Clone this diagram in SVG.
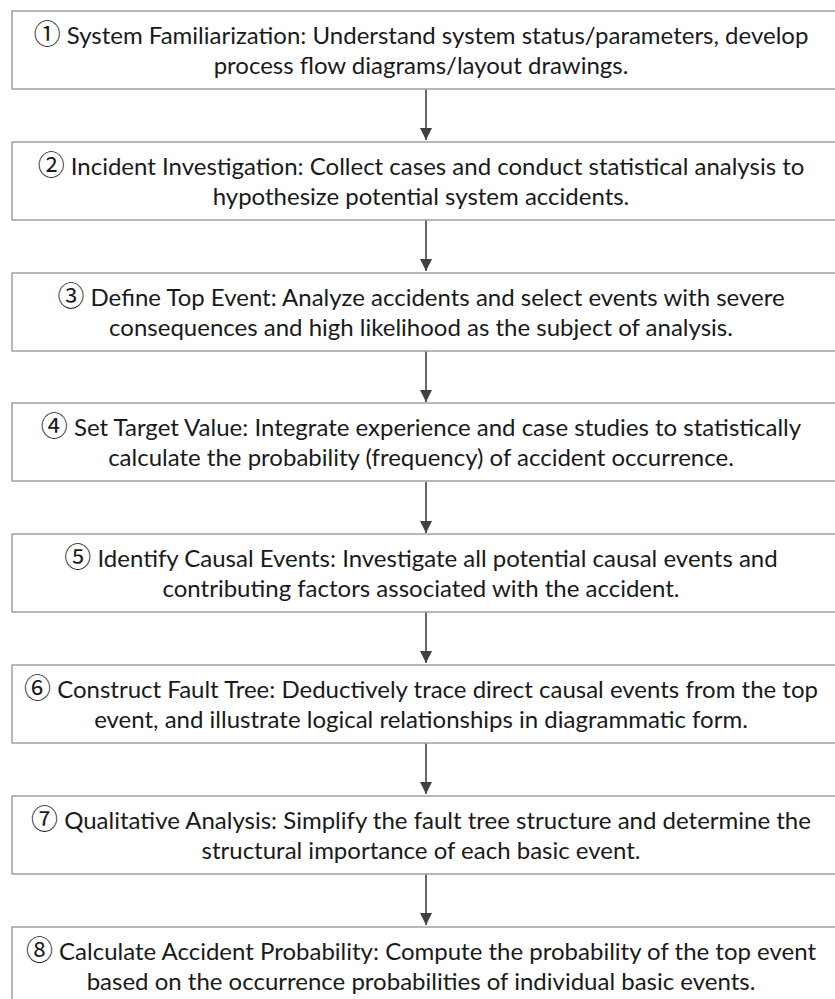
<svg xmlns="http://www.w3.org/2000/svg" width="835" height="999" viewBox="0 0 835 999">
<style>
.box{fill:#ffffff;stroke:#a6a6a6;stroke-width:1.6}
.t{font-family:Lato,"Liberation Sans","Noto Sans CJK SC",sans-serif;font-size:24px;fill:#1a1a1a;text-anchor:middle}
.n{font-family:"Noto Sans CJK SC","DejaVu Sans",sans-serif;font-size:27px}
.c{stroke:#404040;stroke-width:1.6;fill:none}
</style>
<defs>
<marker id="ah" markerWidth="12" markerHeight="12" refX="10" refY="5" orient="auto" markerUnits="userSpaceOnUse" viewBox="0 0 10 10">
<path d="M0,0 L10,5 L0,10 z" fill="#404040"/>
</marker>
</defs>
<rect width="835" height="999" fill="#ffffff"/>
<g id="connectors">
<line class="c" x1="426" y1="89" x2="426" y2="140" marker-end="url(#ah)"/>
<line class="c" x1="426" y1="220" x2="426" y2="271" marker-end="url(#ah)"/>
<line class="c" x1="426" y1="351" x2="426" y2="402" marker-end="url(#ah)"/>
<line class="c" x1="426" y1="482" x2="426" y2="533" marker-end="url(#ah)"/>
<line class="c" x1="426" y1="612" x2="426" y2="663" marker-end="url(#ah)"/>
<line class="c" x1="426" y1="743" x2="426" y2="794" marker-end="url(#ah)"/>
<line class="c" x1="426" y1="874" x2="426" y2="925" marker-end="url(#ah)"/>
</g>
<g id="node1">
<rect class="box" x="12" y="11" width="830" height="78"/>
<text class="t" x="421" y="44"><tspan class="n">①</tspan> System Familiarization: Understand system status/parameters, develop</text>
<text class="t" x="421" y="74">process flow diagrams/layout drawings.</text>
</g>
<g id="node2">
<rect class="box" x="12" y="142" width="830" height="78"/>
<text class="t" x="421" y="175"><tspan class="n">②</tspan> Incident Investigation: Collect cases and conduct statistical analysis to</text>
<text class="t" x="421" y="205">hypothesize potential system accidents.</text>
</g>
<g id="node3">
<rect class="box" x="12" y="273" width="830" height="78"/>
<text class="t" x="421" y="306"><tspan class="n">③</tspan> Define Top Event: Analyze accidents and select events with severe</text>
<text class="t" x="421" y="336">consequences and high likelihood as the subject of analysis.</text>
</g>
<g id="node4">
<rect class="box" x="12" y="403" width="830" height="78"/>
<text class="t" x="421" y="436"><tspan class="n">④</tspan> Set Target Value: Integrate experience and case studies to statistically</text>
<text class="t" x="421" y="466">calculate the probability (frequency) of accident occurrence.</text>
</g>
<g id="node5">
<rect class="box" x="12" y="534" width="830" height="78"/>
<text class="t" x="421" y="567"><tspan class="n">⑤</tspan> Identify Causal Events: Investigate all potential causal events and</text>
<text class="t" x="421" y="597">contributing factors associated with the accident.</text>
</g>
<g id="node6">
<rect class="box" x="12" y="665" width="830" height="78"/>
<text class="t" x="421" y="698"><tspan class="n">⑥</tspan> Construct Fault Tree: Deductively trace direct causal events from the top</text>
<text class="t" x="421" y="728">event, and illustrate logical relationships in diagrammatic form.</text>
</g>
<g id="node7">
<rect class="box" x="12" y="796" width="830" height="78"/>
<text class="t" x="421" y="829"><tspan class="n">⑦</tspan> Qualitative Analysis: Simplify the fault tree structure and determine the</text>
<text class="t" x="421" y="859">structural importance of each basic event.</text>
</g>
<g id="node8">
<rect class="box" x="12" y="927" width="830" height="78"/>
<text class="t" x="421" y="960"><tspan class="n">⑧</tspan> Calculate Accident Probability: Compute the probability of the top event</text>
<text class="t" x="421" y="990">based on the occurrence probabilities of individual basic events.</text>
</g>
</svg>
